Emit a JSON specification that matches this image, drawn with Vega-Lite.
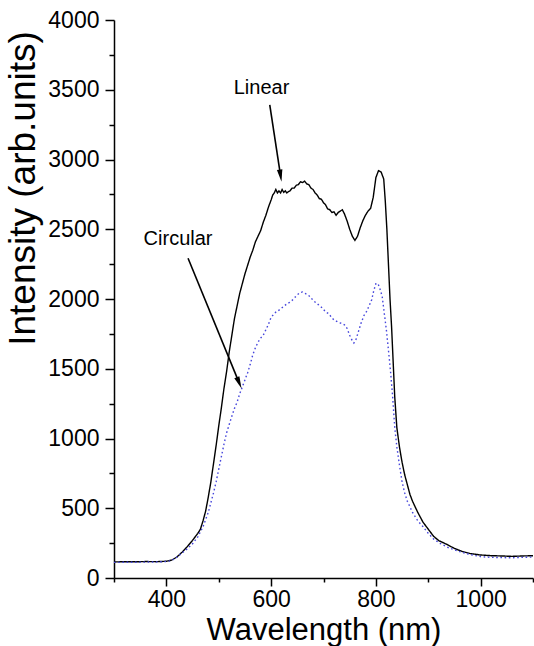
{
  "$schema": "https://vega.github.io/schema/vega-lite/v6.json",
  "width": 419,
  "height": 558,
  "autosize": {"type": "none"},
  "padding": {"left": 114, "top": 20, "right": 1, "bottom": 68},
  "background": "white",
  "config": {
    "view": {"stroke": null},
    "font": "Liberation Sans",
    "axis": {"grid": false, "domainColor": "black", "tickColor": "black", "labelColor": "black", "titleColor": "black", "labelFont": "Liberation Sans", "titleFont": "Liberation Sans", "titleFontWeight": "normal"}
  },
  "datasets": {
    "spectra": [
      {"wl":300,"intensity":115,"series":"Linear"},{"wl":320,"intensity":117,"series":"Linear"},{"wl":340,"intensity":116,"series":"Linear"},{"wl":360,"intensity":118,"series":"Linear"},{"wl":380,"intensity":117,"series":"Linear"},{"wl":400,"intensity":120,"series":"Linear"},{"wl":410,"intensity":128,"series":"Linear"},{"wl":420,"intensity":150,"series":"Linear"},{"wl":430,"intensity":185,"series":"Linear"},{"wl":440,"intensity":225,"series":"Linear"},{"wl":450,"intensity":270,"series":"Linear"},{"wl":460,"intensity":320,"series":"Linear"},{"wl":465,"intensity":350,"series":"Linear"},{"wl":470,"intensity":410,"series":"Linear"},{"wl":475,"intensity":480,"series":"Linear"},{"wl":480,"intensity":580,"series":"Linear"},{"wl":485,"intensity":690,"series":"Linear"},{"wl":490,"intensity":820,"series":"Linear"},{"wl":495,"intensity":950,"series":"Linear"},{"wl":500,"intensity":1090,"series":"Linear"},{"wl":505,"intensity":1220,"series":"Linear"},{"wl":510,"intensity":1360,"series":"Linear"},{"wl":515,"intensity":1480,"series":"Linear"},{"wl":520,"intensity":1620,"series":"Linear"},{"wl":525,"intensity":1740,"series":"Linear"},{"wl":530,"intensity":1860,"series":"Linear"},{"wl":535,"intensity":1950,"series":"Linear"},{"wl":540,"intensity":2040,"series":"Linear"},{"wl":545,"intensity":2110,"series":"Linear"},{"wl":550,"intensity":2180,"series":"Linear"},{"wl":555,"intensity":2240,"series":"Linear"},{"wl":560,"intensity":2300,"series":"Linear"},{"wl":565,"intensity":2350,"series":"Linear"},{"wl":570,"intensity":2410,"series":"Linear"},{"wl":575,"intensity":2450,"series":"Linear"},{"wl":580,"intensity":2490,"series":"Linear"},{"wl":585,"intensity":2550,"series":"Linear"},{"wl":590,"intensity":2600,"series":"Linear"},{"wl":595,"intensity":2660,"series":"Linear"},{"wl":600,"intensity":2710,"series":"Linear"},{"wl":603,"intensity":2745,"series":"Linear"},{"wl":606,"intensity":2760,"series":"Linear"},{"wl":609,"intensity":2785,"series":"Linear"},{"wl":612,"intensity":2760,"series":"Linear"},{"wl":615,"intensity":2775,"series":"Linear"},{"wl":618,"intensity":2760,"series":"Linear"},{"wl":621,"intensity":2785,"series":"Linear"},{"wl":624,"intensity":2765,"series":"Linear"},{"wl":627,"intensity":2775,"series":"Linear"},{"wl":630,"intensity":2760,"series":"Linear"},{"wl":633,"intensity":2770,"series":"Linear"},{"wl":636,"intensity":2775,"series":"Linear"},{"wl":640,"intensity":2795,"series":"Linear"},{"wl":644,"intensity":2795,"series":"Linear"},{"wl":648,"intensity":2815,"series":"Linear"},{"wl":652,"intensity":2820,"series":"Linear"},{"wl":656,"intensity":2840,"series":"Linear"},{"wl":660,"intensity":2835,"series":"Linear"},{"wl":664,"intensity":2845,"series":"Linear"},{"wl":668,"intensity":2825,"series":"Linear"},{"wl":672,"intensity":2820,"series":"Linear"},{"wl":676,"intensity":2795,"series":"Linear"},{"wl":680,"intensity":2785,"series":"Linear"},{"wl":684,"intensity":2760,"series":"Linear"},{"wl":688,"intensity":2745,"series":"Linear"},{"wl":692,"intensity":2720,"series":"Linear"},{"wl":696,"intensity":2715,"series":"Linear"},{"wl":700,"intensity":2690,"series":"Linear"},{"wl":704,"intensity":2675,"series":"Linear"},{"wl":708,"intensity":2645,"series":"Linear"},{"wl":712,"intensity":2640,"series":"Linear"},{"wl":716,"intensity":2620,"series":"Linear"},{"wl":720,"intensity":2625,"series":"Linear"},{"wl":724,"intensity":2600,"series":"Linear"},{"wl":728,"intensity":2620,"series":"Linear"},{"wl":732,"intensity":2630,"series":"Linear"},{"wl":736,"intensity":2640,"series":"Linear"},{"wl":740,"intensity":2610,"series":"Linear"},{"wl":745,"intensity":2560,"series":"Linear"},{"wl":750,"intensity":2500,"series":"Linear"},{"wl":755,"intensity":2450,"series":"Linear"},{"wl":760,"intensity":2420,"series":"Linear"},{"wl":765,"intensity":2450,"series":"Linear"},{"wl":770,"intensity":2510,"series":"Linear"},{"wl":775,"intensity":2560,"series":"Linear"},{"wl":780,"intensity":2600,"series":"Linear"},{"wl":785,"intensity":2630,"series":"Linear"},{"wl":790,"intensity":2650,"series":"Linear"},{"wl":795,"intensity":2730,"series":"Linear"},{"wl":800,"intensity":2870,"series":"Linear"},{"wl":805,"intensity":2920,"series":"Linear"},{"wl":810,"intensity":2910,"series":"Linear"},{"wl":815,"intensity":2860,"series":"Linear"},{"wl":818,"intensity":2700,"series":"Linear"},{"wl":821,"intensity":2500,"series":"Linear"},{"wl":824,"intensity":2250,"series":"Linear"},{"wl":827,"intensity":2000,"series":"Linear"},{"wl":830,"intensity":1800,"series":"Linear"},{"wl":833,"intensity":1550,"series":"Linear"},{"wl":836,"intensity":1300,"series":"Linear"},{"wl":840,"intensity":1080,"series":"Linear"},{"wl":845,"intensity":940,"series":"Linear"},{"wl":850,"intensity":830,"series":"Linear"},{"wl":855,"intensity":740,"series":"Linear"},{"wl":860,"intensity":670,"series":"Linear"},{"wl":865,"intensity":600,"series":"Linear"},{"wl":870,"intensity":550,"series":"Linear"},{"wl":875,"intensity":510,"series":"Linear"},{"wl":880,"intensity":470,"series":"Linear"},{"wl":890,"intensity":400,"series":"Linear"},{"wl":900,"intensity":350,"series":"Linear"},{"wl":910,"intensity":300,"series":"Linear"},{"wl":920,"intensity":268,"series":"Linear"},{"wl":935,"intensity":242,"series":"Linear"},{"wl":950,"intensity":212,"series":"Linear"},{"wl":965,"intensity":190,"series":"Linear"},{"wl":980,"intensity":175,"series":"Linear"},{"wl":1000,"intensity":165,"series":"Linear"},{"wl":1020,"intensity":160,"series":"Linear"},{"wl":1040,"intensity":158,"series":"Linear"},{"wl":1060,"intensity":155,"series":"Linear"},{"wl":1080,"intensity":158,"series":"Linear"},{"wl":1100,"intensity":160,"series":"Linear"},
      {"wl":300,"intensity":112,"series":"Circular"},{"wl":340,"intensity":113,"series":"Circular"},{"wl":380,"intensity":115,"series":"Circular"},{"wl":400,"intensity":118,"series":"Circular"},{"wl":410,"intensity":125,"series":"Circular"},{"wl":420,"intensity":150,"series":"Circular"},{"wl":430,"intensity":180,"series":"Circular"},{"wl":440,"intensity":210,"series":"Circular"},{"wl":450,"intensity":245,"series":"Circular"},{"wl":460,"intensity":295,"series":"Circular"},{"wl":470,"intensity":368,"series":"Circular"},{"wl":480,"intensity":470,"series":"Circular"},{"wl":485,"intensity":540,"series":"Circular"},{"wl":490,"intensity":610,"series":"Circular"},{"wl":495,"intensity":690,"series":"Circular"},{"wl":500,"intensity":780,"series":"Circular"},{"wl":505,"intensity":870,"series":"Circular"},{"wl":510,"intensity":960,"series":"Circular"},{"wl":515,"intensity":1040,"series":"Circular"},{"wl":520,"intensity":1100,"series":"Circular"},{"wl":525,"intensity":1160,"series":"Circular"},{"wl":530,"intensity":1215,"series":"Circular"},{"wl":535,"intensity":1260,"series":"Circular"},{"wl":540,"intensity":1320,"series":"Circular"},{"wl":545,"intensity":1370,"series":"Circular"},{"wl":550,"intensity":1420,"series":"Circular"},{"wl":555,"intensity":1470,"series":"Circular"},{"wl":560,"intensity":1530,"series":"Circular"},{"wl":565,"intensity":1600,"series":"Circular"},{"wl":570,"intensity":1650,"series":"Circular"},{"wl":575,"intensity":1690,"series":"Circular"},{"wl":580,"intensity":1720,"series":"Circular"},{"wl":585,"intensity":1740,"series":"Circular"},{"wl":590,"intensity":1780,"series":"Circular"},{"wl":595,"intensity":1820,"series":"Circular"},{"wl":600,"intensity":1870,"series":"Circular"},{"wl":605,"intensity":1890,"series":"Circular"},{"wl":610,"intensity":1910,"series":"Circular"},{"wl":615,"intensity":1920,"series":"Circular"},{"wl":620,"intensity":1935,"series":"Circular"},{"wl":625,"intensity":1950,"series":"Circular"},{"wl":630,"intensity":1965,"series":"Circular"},{"wl":635,"intensity":1975,"series":"Circular"},{"wl":640,"intensity":1990,"series":"Circular"},{"wl":645,"intensity":2010,"series":"Circular"},{"wl":650,"intensity":2030,"series":"Circular"},{"wl":655,"intensity":2045,"series":"Circular"},{"wl":660,"intensity":2050,"series":"Circular"},{"wl":665,"intensity":2040,"series":"Circular"},{"wl":670,"intensity":2030,"series":"Circular"},{"wl":675,"intensity":2015,"series":"Circular"},{"wl":680,"intensity":1990,"series":"Circular"},{"wl":685,"intensity":1975,"series":"Circular"},{"wl":690,"intensity":1960,"series":"Circular"},{"wl":695,"intensity":1945,"series":"Circular"},{"wl":700,"intensity":1925,"series":"Circular"},{"wl":705,"intensity":1905,"series":"Circular"},{"wl":710,"intensity":1895,"series":"Circular"},{"wl":715,"intensity":1870,"series":"Circular"},{"wl":720,"intensity":1850,"series":"Circular"},{"wl":725,"intensity":1840,"series":"Circular"},{"wl":730,"intensity":1830,"series":"Circular"},{"wl":735,"intensity":1825,"series":"Circular"},{"wl":740,"intensity":1815,"series":"Circular"},{"wl":745,"intensity":1790,"series":"Circular"},{"wl":750,"intensity":1740,"series":"Circular"},{"wl":755,"intensity":1700,"series":"Circular"},{"wl":758,"intensity":1685,"series":"Circular"},{"wl":762,"intensity":1710,"series":"Circular"},{"wl":767,"intensity":1770,"series":"Circular"},{"wl":772,"intensity":1830,"series":"Circular"},{"wl":777,"intensity":1880,"series":"Circular"},{"wl":782,"intensity":1910,"series":"Circular"},{"wl":787,"intensity":1950,"series":"Circular"},{"wl":792,"intensity":1995,"series":"Circular"},{"wl":796,"intensity":2060,"series":"Circular"},{"wl":800,"intensity":2110,"series":"Circular"},{"wl":804,"intensity":2110,"series":"Circular"},{"wl":808,"intensity":2070,"series":"Circular"},{"wl":812,"intensity":2020,"series":"Circular"},{"wl":816,"intensity":1900,"series":"Circular"},{"wl":820,"intensity":1780,"series":"Circular"},{"wl":824,"intensity":1634,"series":"Circular"},{"wl":828,"intensity":1480,"series":"Circular"},{"wl":832,"intensity":1300,"series":"Circular"},{"wl":836,"intensity":1080,"series":"Circular"},{"wl":840,"intensity":941,"series":"Circular"},{"wl":845,"intensity":810,"series":"Circular"},{"wl":850,"intensity":690,"series":"Circular"},{"wl":855,"intensity":610,"series":"Circular"},{"wl":860,"intensity":550,"series":"Circular"},{"wl":865,"intensity":511,"series":"Circular"},{"wl":870,"intensity":470,"series":"Circular"},{"wl":880,"intensity":410,"series":"Circular"},{"wl":890,"intensity":368,"series":"Circular"},{"wl":900,"intensity":320,"series":"Circular"},{"wl":910,"intensity":280,"series":"Circular"},{"wl":922,"intensity":249,"series":"Circular"},{"wl":940,"intensity":215,"series":"Circular"},{"wl":960,"intensity":189,"series":"Circular"},{"wl":980,"intensity":168,"series":"Circular"},{"wl":1000,"intensity":153,"series":"Circular"},{"wl":1020,"intensity":148,"series":"Circular"},{"wl":1040,"intensity":146,"series":"Circular"},{"wl":1060,"intensity":145,"series":"Circular"},{"wl":1080,"intensity":148,"series":"Circular"},{"wl":1100,"intensity":150,"series":"Circular"}
    ],
    "labels": [
      {"label": "Linear", "wl": 581.6, "intensity": 3516},
      {"label": "Circular", "wl": 422.3, "intensity": 2430}
    ],
    "arrows": [
      {"series": "Linear", "wl": 597.4, "intensity": 3391, "wl2": 618.0, "intensity2": 2884},
      {"series": "Circular", "wl": 441.4, "intensity": 2292, "wl2": 539.0, "intensity2": 1399}
    ]
  },
  "layer": [
    {
      "data": {"name": "spectra"},
      "mark": {"type": "line", "strokeWidth": 1.4},
      "encoding": {
        "x": {"field": "wl", "type": "quantitative", "scale": {"domain": [300, 1100], "nice": false, "zero": false},
          "axis": {"orient": "bottom", "values": [400, 600, 800, 1000], "format": "d", "tickSize": 8, "tickWidth": 1.5, "domainWidth": 1.5, "labelFontSize": 23, "labelPadding": 2, "labelFlush": false, "title": "Wavelength (nm)", "titleFontSize": 31, "titleY": 61, "titleBaseline": "alphabetic"}},
        "y": {"field": "intensity", "type": "quantitative", "scale": {"domain": [0, 4000], "nice": false},
          "axis": {"orient": "left", "values": [0, 500, 1000, 1500, 2000, 2500, 3000, 3500, 4000], "format": "d", "tickSize": 9, "tickWidth": 1.5, "domainWidth": 1.5, "labelFontSize": 23, "labelPadding": 6, "labelFlush": false, "title": "Intensity (arb.units)", "titleFontSize": 37, "titleAngle": 270, "titleX": -80, "titleY": 168, "titleAlign": "center", "titleBaseline": "alphabetic"}},
        "color": {"field": "series", "type": "nominal", "scale": {"domain": ["Linear", "Circular"], "range": ["#000000", "#4646dc"]}, "legend": null},
        "strokeDash": {"field": "series", "type": "nominal", "scale": {"domain": ["Linear", "Circular"], "range": [[1, 0], [1.6, 2.6]]}, "legend": null},
        "strokeWidth": {"field": "series", "type": "nominal", "scale": {"domain": ["Linear", "Circular"], "range": [1.4, 1.8]}, "legend": null}
      }
    },
    {
      "data": {"name": "labels"},
      "mark": {"type": "text", "fontSize": 20, "font": "Liberation Sans", "align": "center", "baseline": "middle", "color": "black"},
      "encoding": {
        "x": {"field": "wl", "type": "quantitative", "axis": {"orient": "bottom", "values": [300, 500, 700, 900, 1100], "tickSize": 4, "tickWidth": 1.5, "labels": false, "domain": false, "title": null}},
        "y": {"field": "intensity", "type": "quantitative", "axis": {"orient": "left", "values": [250, 750, 1250, 1750, 2250, 2750, 3250, 3750], "tickSize": 5, "tickWidth": 1.5, "labels": false, "domain": false, "title": null}},
        "text": {"field": "label", "type": "nominal"}
      }
    },
    {
      "data": {"name": "arrows"},
      "mark": {"type": "rule", "color": "black", "strokeWidth": 1.6},
      "encoding": {
        "x": {"field": "wl", "type": "quantitative", "axis": null},
        "y": {"field": "intensity", "type": "quantitative", "axis": null},
        "x2": {"field": "wl2"},
        "y2": {"field": "intensity2"}
      }
    },
    {
      "data": {"name": "arrows"},
      "transform": [{"filter": "datum.series === 'Linear'"}],
      "mark": {"type": "point", "shape": "M -0.45 -1 L 0.45 -1 L 0 1 Z", "size": 150, "filled": true, "color": "black", "opacity": 1, "angle": 351.3},
      "encoding": {
        "x": {"field": "wl2", "type": "quantitative", "axis": null},
        "y": {"field": "intensity2", "type": "quantitative", "axis": null}
      }
    },
    {
      "data": {"name": "arrows"},
      "transform": [{"filter": "datum.series === 'Circular'"}],
      "mark": {"type": "point", "shape": "M -0.45 -1 L 0.45 -1 L 0 1 Z", "size": 150, "filled": true, "color": "black", "opacity": 1, "angle": 337.7},
      "encoding": {
        "x": {"field": "wl2", "type": "quantitative", "axis": null},
        "y": {"field": "intensity2", "type": "quantitative", "axis": null}
      }
    }
  ],
  "resolve": {"axis": {"x": "independent", "y": "independent"}}
}
